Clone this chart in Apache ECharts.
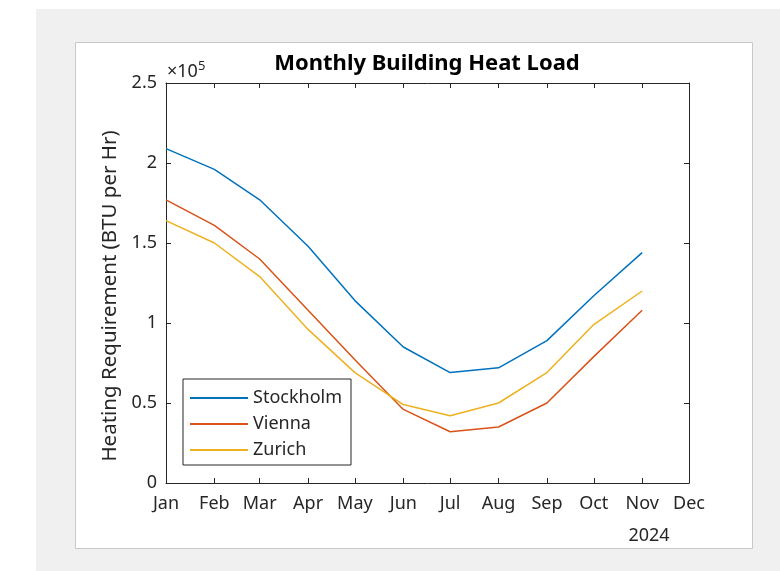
<!DOCTYPE html>
<html>
<head>
<meta charset="utf-8">
<script src="https://cdn.jsdelivr.net/npm/echarts@6/dist/echarts.min.js"></script>
<style>
html,body{margin:0;padding:0;background:#fff;}
#chart{width:780px;height:571px;}
</style>
</head>
<body>
<div id="chart"></div>
<script>
const monthNames = ['Jan','Feb','Mar','Apr','May','Jun','Jul','Aug','Sep','Oct','Nov','Dec'];
const dataMonths = ['Jan','Feb','Mar','Apr','May','Jun','Jul','Aug','Sep','Oct','Nov'];
const stockholm = [209000,196000,177000,148000,114000,85000,69000,72000,89000,117000,144000];
const vienna    = [177000,161000,140000,108000,77000,46000,32000,35000,50000,79000,108000];
const zurich    = [164000,150000,129000,96000,69000,49000,42000,50000,69000,99000,120000];
const yTicks = [0,50000,100000,150000,200000,250000];
const year = 2024;

// day-of-year offset of the first day of each month (calendar, not data)
function dayOf(mIdx){ return Math.round((Date.UTC(year, mIdx, 1) - Date.UTC(year, 0, 1)) / 86400000); }
const tickValues = monthNames.map((m,i)=>dayOf(i));
function toSeries(vals){ return dataMonths.map((m,i)=>[dayOf(monthNames.indexOf(m)), vals[i]]); }

const TXT = '#262626';
const FONT = 'Noto Sans';
const chart = echarts.init(document.getElementById('chart'));

function tickStyle(extra){ return Object.assign({inside:true, length:5, lineStyle:{color:TXT, width:1}}, extra||{}); }
function lineAx(){ return {show:true, onZero:false, lineStyle:{color:TXT, width:1}}; }

const option = {
  animation:false,
  textStyle:{fontFamily:FONT},
  graphic:[
    {type:'rect', z:-20, shape:{x:36,y:9,width:744,height:562}, style:{fill:'#f0f0f0'}},
    {type:'rect', z:-19, shape:{x:75.5,y:42.5,width:677,height:506}, style:{fill:'#ffffff', stroke:'#c8c8c8', lineWidth:1}},
    {type:'text', x:427, y:64, style:{text:'Monthly Building Heat Load', fontFamily:FONT, fontWeight:'bold', fontSize:22, fill:'#000', textAlign:'center', textVerticalAlign:'middle'}},
    {type:'text', x:110, y:296, rotation:Math.PI/2, style:{text:'Heating Requirement (BTU per Hr)', fontFamily:FONT, fontSize:20.5, fill:TXT, textAlign:'center', textVerticalAlign:'middle'}},
    {type:'text', x:167, y:72, style:{text:'{a|×10}{b|5}', fontFamily:FONT, textVerticalAlign:'middle', rich:{a:{fontSize:18, fill:TXT, fontFamily:FONT}, b:{fontSize:13, fill:TXT, fontFamily:FONT, padding:[0,0,11,0]}}}},
    {type:'text', x:649, y:536, style:{text:String(year), fontFamily:FONT, fontSize:18, fill:TXT, textAlign:'center', textVerticalAlign:'middle'}}
  ],
  grid:{left:166, top:83, width:523, height:400, containLabel:false},
  legend:{
    orient:'vertical', left:183, top:379,
    padding:[9,9,5,7],
    itemWidth:58, itemHeight:2, itemGap:6,
    icon:'rect',
    borderColor:TXT, borderWidth:1, backgroundColor:'#fff',
    textStyle:{fontFamily:FONT, fontSize:18, lineHeight:20, color:TXT},
    data:['Stockholm','Vienna','Zurich']
  },
  xAxis:[
    {type:'value', position:'bottom', min:0, max:dayOf(11),
     axisLine:lineAx(), splitLine:{show:false},
     axisTick:tickStyle({customValues:tickValues}),
     axisLabel:{customValues:tickValues, margin:12, fontFamily:FONT, fontSize:18, color:TXT,
       formatter:function(v){ const i = tickValues.indexOf(Math.round(v)); return i>=0 ? monthNames[i] : ''; }}},
    {type:'value', position:'top', min:0, max:dayOf(11),
     axisLine:lineAx(), splitLine:{show:false},
     axisTick:tickStyle({customValues:tickValues}),
     axisLabel:{show:false}}
  ],
  yAxis:[
    {type:'value', position:'left', min:0, max:250000, interval:50000,
     axisLine:lineAx(), splitLine:{show:false}, axisTick:tickStyle(),
     axisLabel:{margin:9, fontFamily:FONT, fontSize:18, color:TXT, formatter:function(v){ return String(v/100000); }}},
    {type:'value', position:'right', min:0, max:250000, interval:50000,
     axisLine:lineAx(), splitLine:{show:false}, axisTick:tickStyle(), axisLabel:{show:false}}
  ],
  series:[
    {name:'Stockholm', type:'line', data:toSeries(stockholm), symbol:'none', lineStyle:{width:1.5, color:'#0072BD'}, itemStyle:{color:'#0072BD'}},
    {name:'Vienna', type:'line', data:toSeries(vienna), symbol:'none', lineStyle:{width:1.5, color:'#D95319'}, itemStyle:{color:'#D95319'}},
    {name:'Zurich', type:'line', data:toSeries(zurich), symbol:'none', lineStyle:{width:1.5, color:'#EDB120'}, itemStyle:{color:'#EDB120'}}
  ]
};
chart.setOption(option);
</script>
</body>
</html>
